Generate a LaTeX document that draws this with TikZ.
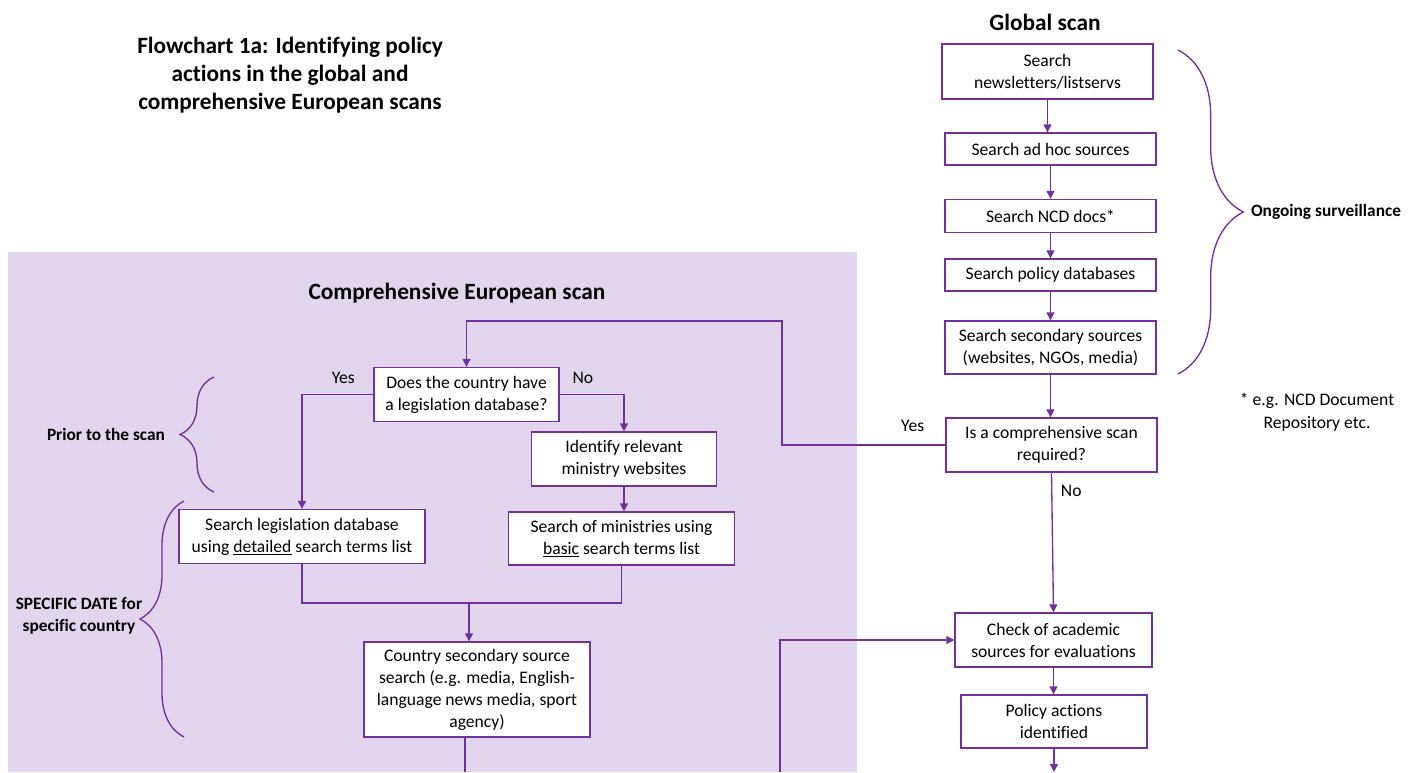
\documentclass[tikz,border=0pt]{standalone}
\usepackage{fontspec}
\setmainfont{Carlito}[Ligatures=NoCommon]
\usetikzlibrary{arrows.meta,decorations.pathreplacing}
\definecolor{plum}{RGB}{112,48,160}
\definecolor{lilac}{RGB}{226,214,238}
\begin{document}
\begin{tikzpicture}[x=0.75pt,y=-0.75pt,
    box/.style={draw=plum,fill=white,line width=1pt,align=center,inner sep=0pt,
      font=\fontsize{13.2}{16.5}\selectfont},
    wh/.style 2 args={minimum width=#1*0.75pt,minimum height=#2*0.75pt},
    flow/.style={draw=plum,line width=1pt,-{Triangle[length=6pt,width=6pt]}},
    link/.style={draw=plum,line width=1pt},
    lbl/.style={font=\fontsize{13.2}{17}\selectfont,align=center},
    heading/.style={font=\bfseries\fontsize{17.5}{21}\selectfont,align=center},
    side/.style={font=\bfseries\fontsize{13}{16.5}\selectfont,align=center},
    curly/.style={draw=plum,line width=1pt,decorate,decoration={brace,amplitude=#1}}]
  \useasboundingbox (0,0) rectangle (1418,772);
  \fill[lilac] (8,252) rectangle (857,772);

  \node[heading] (title) at (290,75) {Flowchart 1a: Identifying policy\\actions in the global and\\comprehensive European scans};
  \node[heading] (gtitle) at (1045,22) {Global scan};
  \node[heading] (etitle) at (457,293) {Comprehensive European scan};

  \node[box,wh={211}{55}] (B1) at (1047.5,71.5) {Search\\newsletters/listservs};
  \node[box,wh={211}{32}] (B2) at (1050.5,149) {Search ad hoc sources};
  \node[box,wh={211}{33}] (B3) at (1050.5,216) {Search NCD docs*};
  \node[box,wh={211}{32}] (B4) at (1050.5,275) {Search policy databases};
  \node[box,wh={211}{53}] (B5) at (1050.5,347.5) {Search secondary sources\\(websites, NGOs, media)};
  \node[box,wh={211}{54}] (Q) at (1051.5,445) {Is a comprehensive scan\\required?};
  \node[box,wh={197}{54}] (Check) at (1053.5,640) {Check of academic\\sources for evaluations};
  \node[box,wh={186}{53}] (Policy) at (1054,721.5) {Policy actions\\identified};

  \node[box,wh={185}{54}] (Does) at (466.5,394.5) {Does the country have\\a legislation database?};
  \node[box,wh={185}{54}] (Ident) at (624,459) {Identify relevant\\ministry websites};
  \node[box,wh={246}{54}] (Leg) at (302,536.5) {Search legislation database\\using \underline{detailed} search terms list};
  \node[box,wh={226}{53}] (Min) at (621.5,538.5) {Search of ministries using\\\underline{basic} search terms list};
  \node[box,wh={226}{95}] (Country) at (477,689.5) {Country secondary source\\search (e.g. media, English-\\language news media, sport\\agency)};

  \node[side] (ongoing) at (1326,212) {Ongoing surveillance};
  \node[side] (prior) at (106,434) {Prior to the scan};
  \node[side] (dated) at (79,616) {SPECIFIC DATE for\\specific country};
  \node[lbl] (note) at (1317,412) {* e.g. NCD Document\\Repository etc.};

  \coordinate (loop) at (782,321);
  \coordinate (join) at (469,603);
  \coordinate (exitA) at (465,772);
  \coordinate (exitB) at (780,772);

  \foreach \a/\b in {B1/B2,B2/B3,B3/B4,B4/B5,B5/Q,Check/Policy}
    \draw[flow] (\a.south) -- (\a.south |- \b.north);
  \draw[flow] (Q.south) -- node[lbl,right,pos=0.13,xshift=3pt] (noA) {No} (Check.north);
  \draw[flow] (Q.west) -| node[lbl,above=6pt,pos=0.1] (yesA) {Yes} (loop) -| (Does.north);
  \draw[flow] (Does.west) -| node[lbl,above=4pt,pos=0.21] (yesB) {Yes} (Leg.north);
  \draw[flow] (Does.east) -| node[lbl,above=4pt,pos=0.18] (noB) {No} (Ident.north);
  \draw[flow] (Ident.south) -- (Ident.south |- Min.north);
  \draw[link] (Leg.south) |- (join) -| (Min.south);
  \draw[flow] (join) -- (join |- Country.north);
  \draw[link] (exitA |- Country.south) -- (exitA);
  \draw[flow] (exitB) |- (Check.west);
  \draw[flow] (Policy.south) -- (Policy.south |- exitB);

  \draw[curly=49pt] (1178,50) -- (1178,374);
  \draw[curly=25.5pt] (214,492) -- (214,377);
  \draw[curly=33pt] (184,737) -- (184,501);
\end{tikzpicture}
\end{document}
